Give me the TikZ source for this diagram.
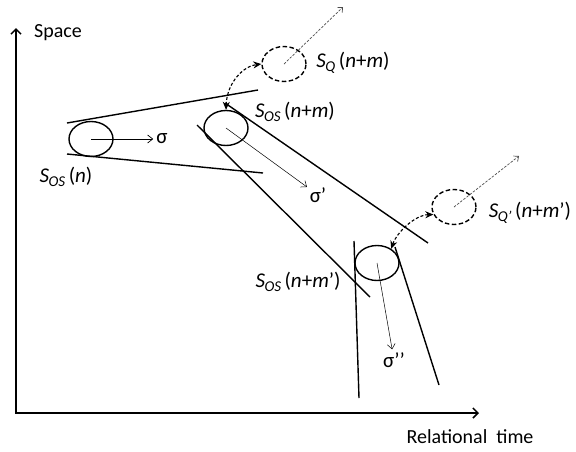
\documentclass[tikz,border=0pt]{standalone}
\usepackage{fontspec}
\setmainfont{Carlito}
\usetikzlibrary{arrows.meta,shapes.geometric}

\newcommand{\sname}[2]{\textit{S}\kern-0.5pt\raisebox{-0.4ex}{\fontsize{15}{15}\selectfont\textit{#1}}\,(#2)}

\begin{document}
\begin{tikzpicture}[
  x=1pt, y=-1pt,
  font=\fontsize{20}{22}\selectfont,
  axis/.style={line width=1.5pt, {Straight Barb[length=5pt,width=10pt]}-{Straight Barb[length=5pt,width=10pt]}},
  wall/.style={line width=1.4pt},
  sys/.style={ellipse, draw, line width=1.4pt, minimum width=44pt,
              minimum height=35pt, inner sep=0pt},
  qsys/.style={sys, dash pattern=on 4.5pt off 2.5pt},
  move/.style={-{Straight Barb[length=5pt,width=8pt]}, line width=0.7pt, shorten >=2pt},
  jump/.style={{Stealth[length=8pt,width=7pt]}-{Stealth[length=8pt,width=7pt]},
               dash pattern=on 3pt off 2pt, line width=1.1pt},
  drift/.style={-{Straight Barb[length=4pt,width=7pt]}, dash pattern=on 2.5pt off 1.5pt,
                line width=0.7pt, draw=black!70},
  lbl/.style={inner sep=1pt},
  slbl/.style={lbl, font=\fontsize{21}{23}\selectfont},
]
\useasboundingbox (0,0) rectangle (576,451);

%% ---------- axes ----------
\draw[axis] (16,28) -- (16,413) -- (479,413);
\node[lbl, anchor=west] (space) at (33,33) {Space};
\node[lbl] (rtime) at (470,437) {Relational\ \ time};

%% ---------- channels ----------
\draw[wall] (67,123) -- (258,90);
\draw[wall] (67,154) -- (263,173);
\draw[wall] (197,125) -- (370,297);
\draw[wall] (225,103) -- (428,243);
\draw[wall] (354,241) -- (359,398);
\draw[wall] (395,247) -- (439,385);

%% ---------- systems ----------
\node[sys] (s1) at (91,139) {};
\node[sys] (s2) at (226,128) {};
\node[sys] (s3) at (377,263) {};
\node[qsys] (q1) at (284,64) {};
\node[qsys] (q2) at (454,207) {};

\node[slbl] (ls1) at (66,177) {\sname{OS}{\textit{n}}};
\node[slbl] (ls2) at (295,112) {\sname{OS}{\textit{n}+\textit{m}}};
\node[slbl] (ls3) at (298,282) {\sname{OS}{\textit{n}+\textit{m}’}};
\node[slbl] (lq1) at (353,63) {\sname{Q}{\textit{n}+\textit{m}}};
\node[slbl] (lq2) at (530,213) {\sname{Q’}{\textit{n}+\textit{m}’}};

\node[slbl] (sg1) at (162,139) {σ};
\node[slbl] (sg2) at (318,195) {σ’};
\node[slbl] (sg3) at (394,360) {σ’’};

\coordinate (q1tip) at (343,7);
\coordinate (q2tip) at (519,156);

%% ---------- motions ----------
\draw[move] (s1.center) -- (sg1);
\draw[move, line width=0.5pt] (s2.center) -- (sg2);
\draw[move, line width=0.5pt] (s3.center) -- (sg3);

\draw[drift] (q1.center) -- (q1tip);
\draw[drift] (q2.center) -- (q2tip);

\draw[jump] (s2.north) .. controls (227,82) and (244,66) .. (q1.west);
\draw[jump] (s3.45) .. controls (397,232) and (415,215) .. (q2.200);

\end{tikzpicture}
\end{document}
